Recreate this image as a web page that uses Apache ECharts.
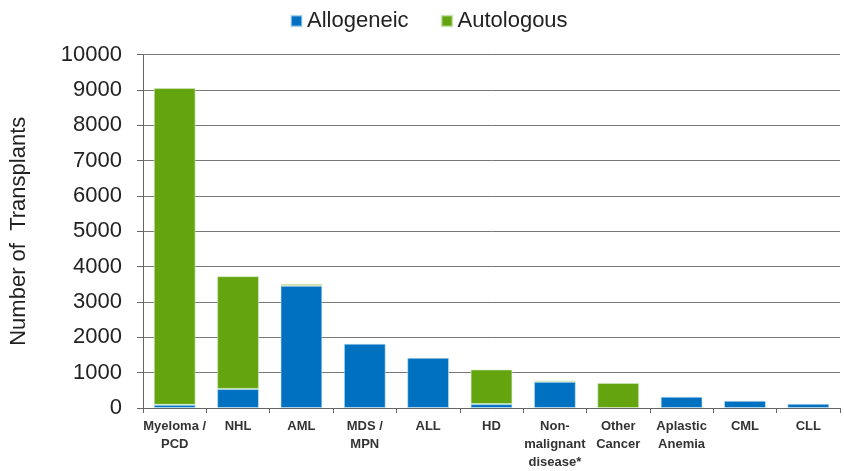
<!DOCTYPE html>
<html>
<head>
<meta charset="utf-8">
<script src="https://cdn.jsdelivr.net/npm/echarts@6/dist/echarts.min.js"></script>
<style>html,body{margin:0;padding:0;background:#fff;}#c{width:844px;height:471px;}</style>
</head>
<body>
<div id="c"></div>
<script>
var categories = ["Myeloma /\nPCD", "NHL", "AML", "MDS /\nMPN", "ALL", "HD", "Non-\nmalignant\ndisease*", "Other\nCancer", "Aplastic\nAnemia", "CML", "CLL"];
var allogeneic = [90, 540, 3460, 1820, 1420, 110, 740, null, 320, 205, 120];
var autologous = [8960, 3190, 50, null, null, 980, 40, 710, null, null, null];
var yTicks = [0, 1000, 2000, 3000, 4000, 5000, 6000, 7000, 8000, 9000, 10000];

var chart = echarts.init(document.getElementById('c'));
var font = '"Liberation Sans", Arial, sans-serif';
chart.setOption({
  animation: false,
  legend: {
    left: 285, top: 5,
    itemWidth: 11, itemHeight: 11, itemGap: 32,
    icon: 'rect',
    textStyle: { fontFamily: font, fontSize: 22, color: '#222' },
    data: ['Allogeneic', 'Autologous']
  },
  grid: { left: 137, right: 4, top: 54.5, bottom: 61, containLabel: false },
  xAxis: {
    type: 'category',
    data: categories,
    axisLine: { lineStyle: { color: '#666', width: 1 } },
    axisTick: { show: true, length: 5, lineStyle: { color: '#666' } },
    axisLabel: { fontFamily: font, fontSize: 13, fontWeight: 'bold', color: '#333', lineHeight: 18, margin: 9, interval: 0 }
  },
  yAxis: {
    type: 'value',
    min: yTicks[0], max: yTicks[yTicks.length - 1], interval: 1000,
    name: 'Number of  Transplants',
    nameLocation: 'middle', nameGap: 113, nameRotate: 90,
    nameTextStyle: { fontFamily: font, fontSize: 22, color: '#222' },
    axisLine: { show: true, lineStyle: { color: '#666', width: 1 } },
    axisTick: { show: true, length: 6, lineStyle: { color: '#666' } },
    axisLabel: { fontFamily: font, fontSize: 22, color: '#222', margin: 21, formatter: function (v) { return String(v); } },
    splitLine: { lineStyle: { color: '#777', width: 1 } }
  },
  series: [
    { name: 'Allogeneic', type: 'bar', stack: 't', data: allogeneic, barWidth: '66%',
      itemStyle: { color: '#0070C0', borderColor: 'rgba(200,230,245,0.6)', borderWidth: 1 } },
    { name: 'Autologous', type: 'bar', stack: 't', data: autologous, barWidth: '66%',
      itemStyle: { color: '#64A40E', borderColor: 'rgba(215,235,200,0.6)', borderWidth: 1 } }
  ]
});
</script>
</body>
</html>
